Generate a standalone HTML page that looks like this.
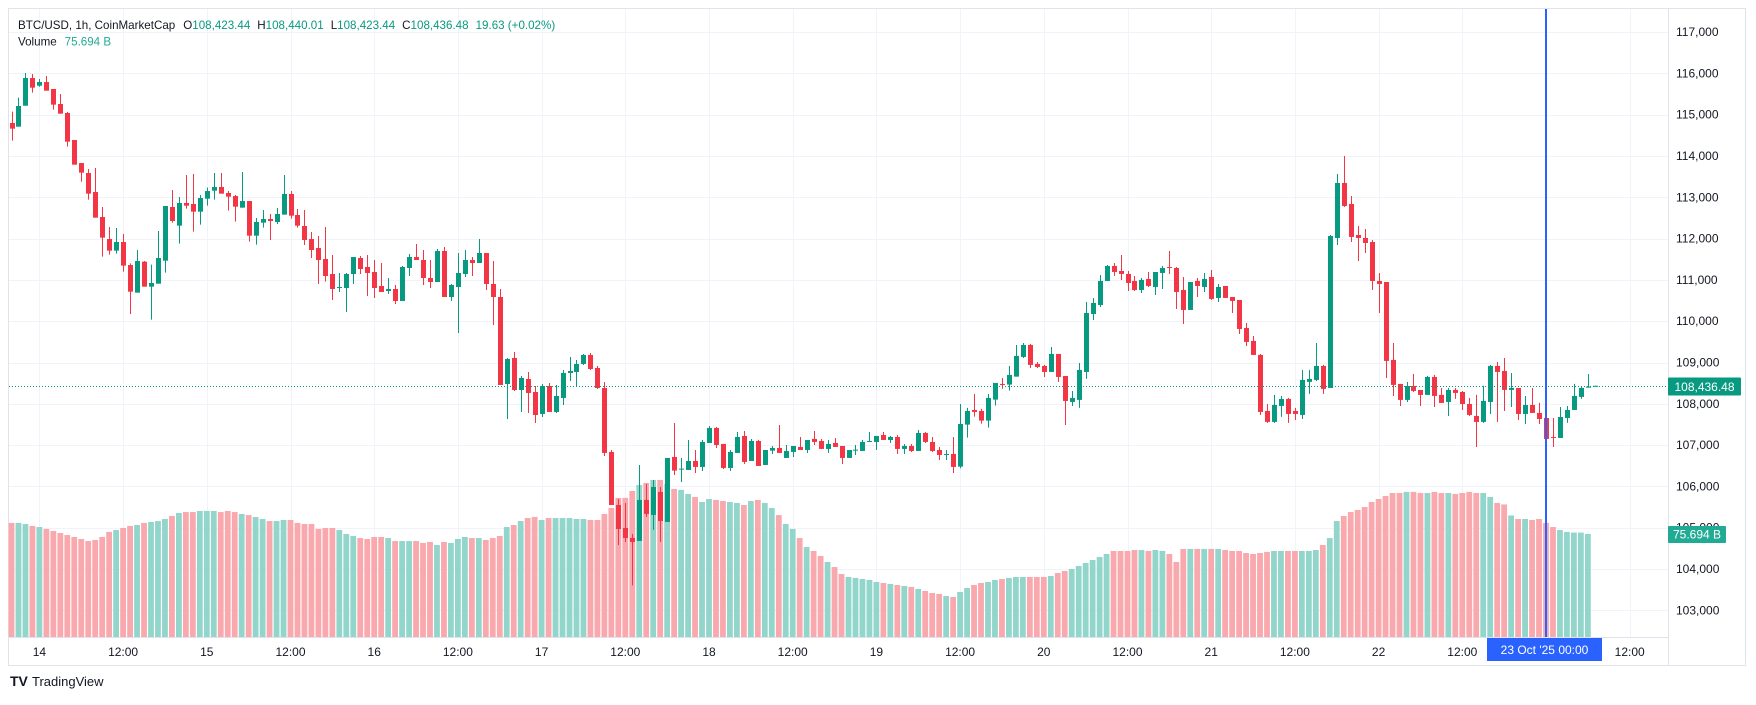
<!DOCTYPE html>
<html><head><meta charset="utf-8"><title>BTC/USD 1h</title>
<style>
html,body{margin:0;padding:0;background:#fff;}
body{width:1756px;height:700px;overflow:hidden;font-family:"Liberation Sans",sans-serif;}
svg text{font-family:"Liberation Sans",sans-serif;}
</style></head>
<body>
<svg id="chart" width="1756" height="700" viewBox="0 0 1756 700" xmlns="http://www.w3.org/2000/svg">
  <rect x="0" y="0" width="1756" height="700" fill="#fff"/>
  <rect x="8.5" y="8.5" width="1737" height="657" fill="none" stroke="#e0e3eb" stroke-width="1"/>
  <g id="grid"></g>
  <g id="vol"></g>
  <g id="candles"></g>
  <g id="overlay"></g>
  <line x1="1668.5" y1="9" x2="1668.5" y2="665" stroke="#e0e3eb"/>
  <line x1="9" y1="637.5" x2="1668" y2="637.5" stroke="#e0e3eb"/>
  <g id="yaxis"></g>
  <g id="xaxis"></g>
  <text x="18" y="29" font-size="11.6" fill="#131722">BTC/USD, 1h, CoinMarketCap<tspan dx="8">O</tspan><tspan fill="#089981">108,423.44</tspan><tspan dx="7">H</tspan><tspan fill="#089981">108,440.01</tspan><tspan dx="7">L</tspan><tspan fill="#089981">108,423.44</tspan><tspan dx="7">C</tspan><tspan fill="#089981">108,436.48</tspan><tspan dx="7" fill="#089981">19.63 (+0.02%)</tspan></text>
  <text x="18" y="45.5" font-size="11.6" fill="#131722">Volume<tspan dx="8" fill="#22ab94">75.694 B</tspan></text>
  <g>
    <text x="10" y="686" font-size="14" font-weight="bold" fill="#131722">TV</text>
    <text x="32" y="686" font-size="13" fill="#131722">TradingView</text>
  </g>
</svg>
<script>
const hStart = -220;
const opens = [114799,114710,115218,115888,115703,115791,115622,115259,115041,114387,113830,113588,113128,112523,111990,111708,111918,111361,110691,111442,110836,110909,111466,112765,112313,112862,112838,112652,112967,113160,113249,113104,113031,112749,112910,112071,112386,112475,112402,112580,113080,112571,
112305,111990,111772,111506,111143,110820,110804,111143,111530,111312,111191,110852,110731,110780,110489,111288,111554,111482,111046,110949,111700,110586,110828,111143,111482,111409,111651,110901,110586,108480,109110,108334,108600,108286,107754,108431,107802,108141,108746,108770,108964,109182,108867,108383,106834,105550,104993,104752,104679,105672,105309,105866,105139,106713,106422,106398,106616,106471,107052,107415,107028,106447,106810,107221,106616,107100,106519,106866,106931,106689,106834,106955,106882,107149,107100,106907,107052,106979,106689,106882,106858,107076,107076,107245,107124,107197,106907,106979,106858,107294,107076,106882,106761,106786,106479,107496,107851,107827,107593,108101,108481,108465,108658,109135,109425,108965,108917,108771,109207,108674,108045,108094,108771,110175,110393,110974,111337,111216,111144,110974,110756,111023,110829,111168,111313,111289,110756,110272,110974,110829,111071,110563,110853,110587,110514,109836,109522,109183,107827,107561,107948,108118,107827,107730,108530,108578,108917,108384,112015,113347,112839,112088,112015,111918,110974,110950,109062,108481,108094,108432,108335,108215,108650,108215,108045,108336,108287,107996,107706,107561,108045,108917,108795,108336,108384,107754,107972,107779,107657,107197,107173,107657,107851,108166,108408,108423];
const highs = [115073,115412,116009,115985,115864,115937,115622,115501,115065,114387,113830,113685,113709,112765,112281,112257,112111,111401,111724,111458,111369,112184,112789,113177,113007,113540,113564,113056,113233,113588,113588,113152,113056,113613,112910,112499,112692,112596,112741,113540,113152,112717,
112692,112160,112063,112281,111603,111167,111167,111554,111579,111603,111482,111409,111046,110877,111337,111627,111869,111724,111482,111748,111797,110901,111651,111724,111554,111990,111651,111458,110780,109110,109255,108673,108770,108431,108480,108504,108456,108819,109134,109061,109206,109231,108916,108528,106882,105695,105599,104849,106519,106059,106156,105987,106689,107536,106689,107124,106882,107124,107463,107439,107028,106882,107318,107342,107149,107124,106882,106979,107488,107003,106979,107197,107124,107342,107149,107124,107173,106979,106882,107003,107124,107318,107221,107318,107221,107245,107028,107028,107366,107318,107197,106955,106882,107197,107996,107900,108239,107876,108239,108505,108626,108917,109425,109473,109449,109013,108941,109376,109207,108674,108311,108989,110466,110563,111120,111362,111410,111604,111216,111095,111047,111192,111192,111337,111701,111313,111071,110950,111047,111168,111241,110902,110853,110587,110514,109957,109643,109207,107996,108215,108190,108142,107900,108820,108820,109473,108941,112088,113565,114000,113032,112306,112233,111967,111168,110950,109473,108481,108529,108723,108335,108674,108699,108384,108384,108384,108311,108142,108215,108433,108941,109013,109110,108747,108384,108190,108384,108021,107657,107657,107924,107948,108481,108408,108723,108440];
const lows = [114371,114710,115218,115533,115678,115582,115122,115025,114226,113790,113378,112943,112507,111563,111611,111635,111200,110175,110691,110836,110038,110909,111175,112386,111877,112725,112168,112337,112797,112943,113088,112676,112410,112749,111926,111853,112265,111966,112354,112580,112483,112265,
111845,111530,110901,110957,110514,110707,110223,110901,111143,110610,110562,110707,110659,110417,110489,111095,111482,110877,110804,110949,110586,110489,109715,111070,111095,111409,110756,109908,108456,107632,108310,107802,107778,107536,107681,107802,107778,107972,108552,108407,108940,108819,108359,106737,105550,104582,104650,103600,104679,105260,104946,104655,105139,106277,106108,106398,106325,106374,107052,106931,106422,106374,106810,106543,106616,106495,106519,106785,106810,106689,106713,106882,106810,107003,106907,106810,106955,106543,106689,106761,106858,107076,106882,107124,107052,106785,106785,106834,106858,107052,106834,106640,106640,106325,106440,107181,107690,107520,107424,107956,108360,108320,108658,109110,108868,108868,108650,108771,108529,107488,107948,107900,108602,110030,110345,110974,111095,110999,110732,110732,110684,110829,110635,110781,111144,110296,109933,110272,110587,110708,110514,110466,110563,110200,109691,109401,109183,107730,107537,107537,107682,107537,107609,107633,108239,108553,108239,108384,111846,112766,111919,111459,111652,110756,110200,108626,108190,107948,108045,108287,107948,108215,107924,108021,107706,108118,107851,107706,106955,107537,107754,107561,107827,107924,107609,107512,107779,107512,106786,106955,107173,107537,107851,108118,108392,108423];
const closes = [114662,115210,115888,115654,115791,115582,115243,115025,114347,113790,113596,113088,112507,112023,111708,111918,111345,110715,111458,110836,110925,111530,112789,112426,112862,112797,112652,112983,113152,113249,113088,113015,112773,112910,112071,112402,112475,112426,112596,113080,112555,112313,
111966,111724,111482,111095,110780,110828,111143,111554,111264,111167,110804,110707,110780,110489,111312,111554,111482,111046,110949,111700,110586,110877,111167,111482,111409,111651,110901,110586,108456,109085,108334,108625,108262,107729,108431,107802,108189,108746,108795,108964,109182,108843,108383,106810,105550,104969,104751,104655,105672,105333,105987,105163,106689,106382,106430,106616,106471,107076,107415,107003,106447,106834,107197,106592,107100,106495,106882,106931,106810,106858,106979,106882,107124,107076,106907,107028,106955,106689,106882,106890,107076,107100,107221,107124,107197,106907,106979,106858,107294,107076,106858,106761,106786,106471,107512,107827,107803,107593,108142,108505,108456,108699,109159,109425,108941,108892,108771,109207,108650,108069,108142,108820,110200,110442,110974,111337,111192,111144,110926,110756,110999,110853,111192,111289,111297,110708,110272,110950,110853,111023,110539,110829,110563,110490,109812,109498,109183,107803,107561,107972,108118,107754,107754,108578,108602,108917,108360,112064,113347,112790,112040,112015,111894,110974,110902,109038,108457,108094,108432,108311,108215,108650,108190,108021,108336,108263,107996,107730,107561,108069,108917,108771,108336,108384,107754,107972,107779,107633,107149,107181,107682,107851,108190,108384,108415,108436];
const volumes = [83.8,83.8,83.0,81.6,80.8,79.4,77.9,76.4,74.9,73.5,72.0,70.5,71.3,73.5,77.2,78.6,80.1,81.6,82.3,83.8,84.5,85.2,86.7,88.9,91.1,91.8,91.8,92.6,92.6,92.6,91.8,92.6,91.8,90.4,89.6,88.2,86.7,85.2,85.2,86.0,
86.0,83.8,83.0,83.0,79.4,80.1,80.1,78.6,75.7,74.2,72.7,72.0,73.5,73.5,72.7,70.5,70.5,70.5,70.5,69.1,69.8,67.6,69.8,69.1,72.0,73.5,72.7,72.7,71.3,72.7,74.2,80.8,82.3,85.2,87.4,88.2,86.0,87.4,87.4,87.4,87.4,86.7,86.7,86.0,86.0,90.4,94.8,102.2,102.2,107.3,
111.7,113.2,115.4,115.4,112.5,108.8,108.1,105.1,102.9,99.2,101.4,100.7,99.9,99.2,98.5,97.0,99.9,100.7,98.5,94.8,89.6,83.0,79.4,72.7,66.1,63.2,59.5,55.1,51.4,46.3,44.1,43.4,
42.6,41.9,40.4,39.7,39.0,38.2,37.5,36.8,35.3,33.8,32.3,31.6,30.1,29.4,
33.1,36.0,38.2,39.7,40.4,41.9,42.6,43.4,44.1,44.1,44.1,44.1,44.1,44.8,
47.0,48.5,50.0,52.2,54.4,56.6,58.8,61.0,63.2,63.2,
63.2,63.9,63.9,63.2,63.9,63.2,61.0,55.1,
64.7,64.7,64.7,64.7,64.7,64.7,63.9,63.2,
63.2,61.7,61.0,61.7,62.5,63.2,63.2,63.2,63.2,63.2,63.2,63.9,67.6,
72.7,85.2,88.9,91.8,93.3,95.5,99.2,101.4,103.6,
105.8,105.8,106.6,106.6,105.8,105.8,106.6,105.8,105.8,105.1,105.8,106.6,105.8,105.8,102.9,
98.5,97.4,89.3,86.7,86.7,86.0,86.7,83.8,80.8,78.6,77.2,76.7,76.7,75.694];
const priceTicks = [103000,104000,105000,106000,107000,108000,109000,110000,111000,112000,113000,114000,115000,116000,117000];
const timeTickHours = [-216,-204,-192,-180,-168,-156,-144,-132,-120,-108,-96,-84,-72,-60,-48,-36,-24,-12,12];
const timeTickLabels = ["14","12:00","15","12:00","16","12:00","17","12:00","18","12:00","19","12:00","20","12:00","21","12:00","22","12:00","12:00"];
const lastPrice = 108436.48;
const lastVolume = 75.694;
const crosshairHour = 0;

const NS = "http://www.w3.org/2000/svg";
function xOfHour(h){ return 1546 + h*6.975; }
function yOfPrice(p){ return 156 + (114000 - p)*0.0413; }
function yOfVol(v){ return 637 - v*1.361; }
function mk(tag, attrs, parent){
  const el = document.createElementNS(NS, tag);
  for (const k in attrs) el.setAttribute(k, attrs[k]);
  parent.appendChild(el);
  return el;
}
const grid = document.getElementById('grid');
const volG = document.getElementById('vol');
const cG = document.getElementById('candles');
const ov = document.getElementById('overlay');
const yAx = document.getElementById('yaxis');
const xAx = document.getElementById('xaxis');

priceTicks.forEach(function(p){
  const y = Math.round(yOfPrice(p)) + 0.5;
  const ln = mk('line', {x1:9, x2:1668, y1:y, y2:y, stroke:'#f0f3fa', 'stroke-width':1}, grid);
  
  
  const t = mk('text', {x:1676, y:yOfPrice(p)+4, 'font-size':12, fill:'#131722'}, yAx);
  t.textContent = p.toLocaleString('en-US');
  
  
});
timeTickHours.forEach(function(h, i){
  const x = Math.round(xOfHour(h)) + 0.5;
  const ln = mk('line', {x1:x, x2:x, y1:9, y2:637, stroke:'#f0f3fa', 'stroke-width':1}, grid);
  
  
  const t = mk('text', {x:xOfHour(h), y:656, 'font-size':12, fill:'#131722', 'text-anchor':'middle'}, xAx);
  t.textContent = timeTickLabels[i];
  
  
});

for (let i = 0; i < opens.length; i++){
  const h = hStart + i;
  const x = xOfHour(h);
  const up = closes[i] >= opens[i];
  const vb = mk('rect', {x:x-2.9, y:yOfVol(volumes[i]), width:5.8, height:637-yOfVol(volumes[i]), fill: up ? '#92d5ca' : '#f9a8ad'}, volG);
  
  
  const col = up ? '#089981' : '#f23645';
  const g = mk('g', {}, cG);
  
  
  const wx = Math.round(x) + 0.5;
  const w = mk('line', {x1:wx, x2:wx, y1:yOfPrice(highs[i]), y2:yOfPrice(lows[i]), stroke:col, 'stroke-width':1}, g);
  
  
  const top = yOfPrice(Math.max(opens[i], closes[i]));
  const bot = yOfPrice(Math.min(opens[i], closes[i]));
  const b = mk('rect', {x:Math.round(x)-2, y:top, width:5, height:Math.max(1, bot-top), fill:col}, g);
  
  
}

const py = Math.round(yOfPrice(lastPrice)) + 0.5;
const pl = mk('line', {x1:9, x2:1668, y1:py, y2:py, stroke:'#089981', 'stroke-width':1, 'stroke-dasharray':'1 2'}, ov);


const cx = xOfHour(crosshairHour);
const cl = mk('line', {x1:cx, x2:cx, y1:9, y2:637, stroke:'#2962ff', 'stroke-width':2}, ov);



const pb = mk('rect', {x:1668, y:py-9, width:73, height:18, fill:'#089981', rx:1}, yAx);


const pt = mk('text', {x:1704.5, y:py+4.5, 'font-size':12, fill:'#fff', 'text-anchor':'middle'}, yAx);
pt.textContent = lastPrice.toLocaleString('en-US', {minimumFractionDigits:2});


const vy = yOfVol(lastVolume);
const vbx = mk('rect', {x:1668, y:vy-8, width:58, height:17, fill:'#22ab94', rx:1}, yAx);


const vt = mk('text', {x:1697, y:vy+4.5, 'font-size':12, fill:'#fff', 'text-anchor':'middle'}, yAx);
vt.textContent = lastVolume + ' B';



const tb = mk('rect', {x:1487, y:638, width:115, height:23, fill:'#2962ff'}, xAx);


const tt = mk('text', {x:1544.5, y:654, 'font-size':12, fill:'#fff', 'text-anchor':'middle', 'xml:space':'preserve'}, xAx);
tt.textContent = "23 Oct '25   00:00";


</script>
</body></html>
